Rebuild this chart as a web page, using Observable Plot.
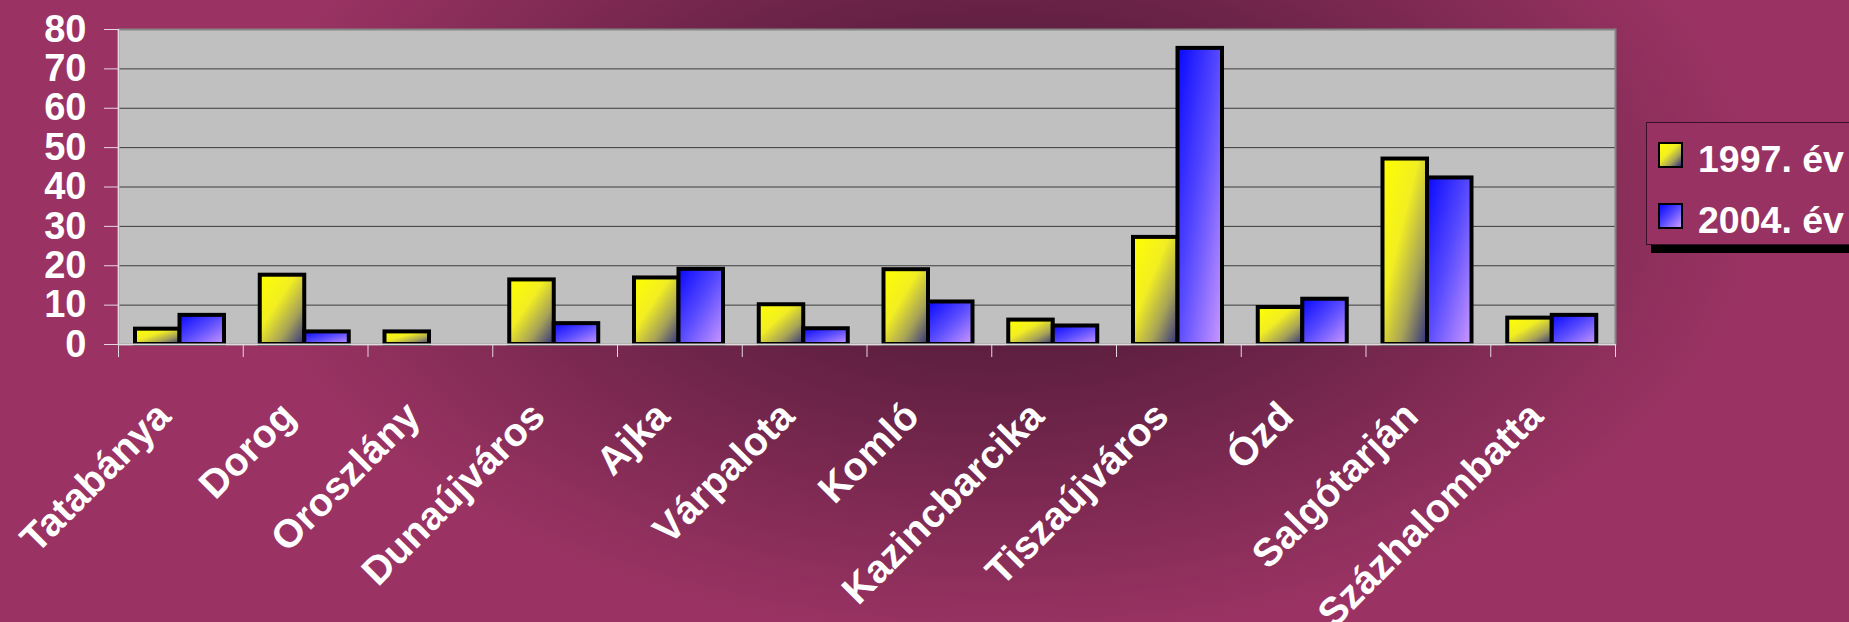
<!DOCTYPE html>
<html>
<head>
<meta charset="utf-8">
<script src="https://cdn.jsdelivr.net/npm/d3@7"></script>
<script src="https://cdn.jsdelivr.net/npm/@observablehq/plot@0.6"></script>
<style>
  html, body { margin: 0; padding: 0; }
  body {
    width: 1849px; height: 622px; overflow: hidden; position: relative;
    background: radial-gradient(ellipse 760px 440px at 1000px 200px, #4a1632 0%, #521b39 22%, #9a3363 100%);
    font-family: "Liberation Sans", Arial, sans-serif;
  }
  #chart { position: absolute; left: 0; top: 0; }
  #legend {
    position: absolute; left: 1646px; top: 122px; width: 240px; height: 121px;
    border: 1px solid #3a1028; background: #983262;
    box-shadow: 5px 8px 0 0 #000;
  }
  .item { position: absolute; left: 11px; color: white; font-weight: bold; font-size: 37.5px; line-height: 1; white-space: nowrap; }
  .sw { position: absolute; left: 0; width: 21px; height: 22px; border: 2px solid #000; }
  .lbl { position: absolute; left: 40px; top: 0; }
</style>
</head>
<body>
<div id="chart"></div>
<div id="legend">
  <div class="item" style="top:18px"><div class="sw" style="top:1px;background:linear-gradient(135deg,#ffff00 0%,#f2ee22 40%,#a6a258 70%,#2e2e80 100%)"></div><span class="lbl" id="l0"></span></div>
  <div class="item" style="top:79px"><div class="sw" style="top:1px;background:linear-gradient(135deg,#0808ff 0%,#5a4cff 50%,#cc99ff 100%)"></div><span class="lbl" id="l1"></span></div>
</div>
<script>
const cities = ["Tatabánya","Dorog","Oroszlány","Dunaújváros","Ajka","Várpalota","Komló","Kazincbarcika","Tiszaújváros","Ózd","Salgótarján","Százhalombatta"];
const values1997 = [3.9, 17.6, 3.2, 16.4, 16.9, 10.1, 19.0, 6.2, 27.2, 9.4, 47.1, 6.7];
const values2004 = [7.4, 3.2, null, 5.3, 19.1, 4.0, 10.8, 4.7, 75.2, 11.5, 42.3, 7.4];
const seriesNames = ["1997. év", "2004. év"];
const yTicks = [0, 10, 20, 30, 40, 50, 60, 70, 80];

document.getElementById("l0").textContent = seriesNames[0];
document.getElementById("l1").textContent = seriesNames[1];

const W = 1849, H = 622;
const mL = 118, mR = 234, mT = 29, mB = 278;
const bw = (W - mL - mR) / cities.length;
const barW = 44.5, off = 17;

const d1997 = cities.map((c, i) => ({city: c, value: values1997[i]})).filter(d => d.value != null);
const d2004 = cities.map((c, i) => ({city: c, value: values2004[i]})).filter(d => d.value != null);

const light = "#e4d8df";

const chart = Plot.plot({
  width: W, height: H,
  marginLeft: mL, marginRight: mR, marginTop: mT, marginBottom: mB,
  style: {background: "transparent", color: "white", fontFamily: "'Liberation Sans', Arial, sans-serif", maxWidth: "none", overflow: "visible"},
  x: {type: "band", domain: cities, padding: 0, round: false, label: null, axis: null},
  y: {domain: [0, 80], label: null, axis: null},
  marks: [
    Plot.frame({fill: "#c0c0c0"}),
    Plot.gridY(yTicks, {stroke: "#3c3c3c", strokeOpacity: 1, strokeWidth: 1}),
    Plot.barY(d1997, {x: "city", y: "value", fill: "url(#gy)", stroke: "#000", strokeWidth: 4, insetLeft: off, insetRight: bw - off - barW}),
    Plot.barY(d2004, {x: "city", y: "value", fill: "url(#gb)", stroke: "#000", strokeWidth: 4, insetLeft: off + barW, insetRight: bw - off - 2 * barW}),
    Plot.frame({stroke: "#858585", strokeWidth: 2}),
    Plot.ruleY([0], {stroke: light, strokeWidth: 1.5}),
    Plot.ruleX([cities[0]], {dx: -bw / 2, stroke: light, strokeWidth: 1.5}),
    Plot.axisY(yTicks, {tickSize: 14, tickPadding: 18, stroke: light, fill: "white", fontSize: 38, fontWeight: "bold", label: null}),
    Plot.axisX(cities, {tickSize: 13, tickFormat: () => "", dx: -bw / 2, stroke: light, label: null}),
    Plot.axisX([cities[cities.length - 1]], {tickSize: 13, tickFormat: () => "", dx: bw / 2, stroke: light, label: null}),
    Plot.axisX(cities, {tickSize: 0, tickRotate: -45, tickPadding: 0, dx: -17, dy: 65, fill: "white", fontSize: 39.5, fontWeight: "bold", label: null})
  ]
});

d3.select(chart).insert("defs", ":first-child").html(`
  <linearGradient id="gy" x1="0" y1="0" x2="1" y2="1">
    <stop offset="0" stop-color="#ffff00"/>
    <stop offset="0.4" stop-color="#f2ee22"/>
    <stop offset="0.7" stop-color="#a6a258"/>
    <stop offset="1" stop-color="#2e2e80"/>
  </linearGradient>
  <linearGradient id="gb" x1="0" y1="0" x2="1" y2="1">
    <stop offset="0" stop-color="#0808ff"/>
    <stop offset="0.5" stop-color="#5a4cff"/>
    <stop offset="1" stop-color="#cc99ff"/>
  </linearGradient>`);

document.getElementById("chart").appendChild(chart);
</script>
</body>
</html>
